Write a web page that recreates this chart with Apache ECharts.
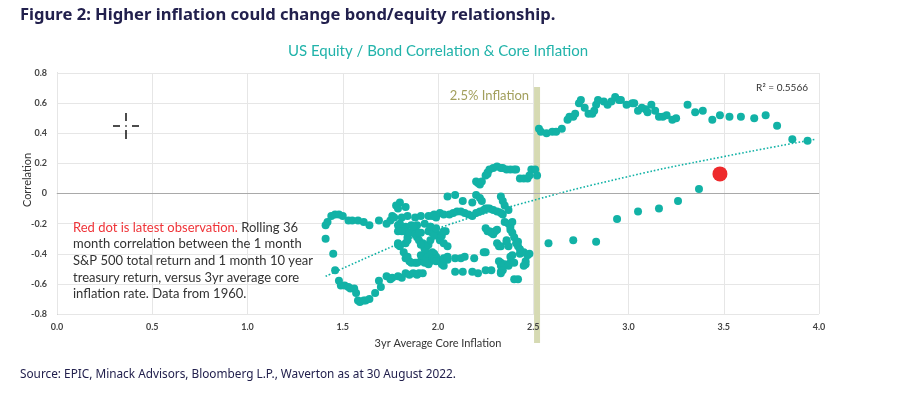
<!DOCTYPE html>
<html>
<head>
<meta charset="utf-8">
<script src="https://cdn.jsdelivr.net/npm/echarts@6/dist/echarts.min.js"></script>
<style>
  html, body { margin: 0; padding: 0; background: #fff; }
  #chart { width: 899px; height: 399px; }
</style>
</head>
<body>
<div id="chart"></div>
<script>
// 3yr avg core inflation vs rolling 36m equity/bond correlation
const leftArm = [
  [1.41,-0.21],[1.42,-0.19],[1.44,-0.15],[1.46,-0.14],[1.48,-0.14],[1.50,-0.15],[1.53,-0.18],[1.55,-0.18],
  [1.58,-0.18],[1.61,-0.19],[1.64,-0.21],[1.69,-0.18],[1.73,-0.20],[1.75,-0.18],[1.76,-0.15],
  [1.41,-0.30],[1.45,-0.40],[1.46,-0.51]
];
const lowerArm = [
  [1.48,-0.58],[1.49,-0.61],[1.51,-0.61],[1.53,-0.62],[1.54,-0.63],[1.56,-0.63],[1.57,-0.66],[1.58,-0.71],
  [1.59,-0.72],[1.61,-0.71],[1.62,-0.71],[1.64,-0.70],[1.67,-0.66],[1.69,-0.58],[1.70,-0.62],[1.73,-0.55],
  [1.75,-0.57],[1.76,-0.56],[1.79,-0.55],[1.81,-0.56],[1.83,-0.53],[1.85,-0.54],[1.87,-0.53],[1.89,-0.54],
  [1.90,-0.53],[1.92,-0.53]
];
const middleCluster = [
  [1.78,-0.08],[1.80,-0.06],[1.83,-0.09],[1.79,-0.10],
  [1.77,-0.16],[1.81,-0.16],[1.84,-0.15],[1.88,-0.16],[1.91,-0.15],[1.95,-0.15],
  [1.79,-0.21],[1.83,-0.22],[1.86,-0.21],[1.88,-0.23],[1.89,-0.21],[1.93,-0.20],[1.96,-0.22],
  [1.83,-0.25],[1.87,-0.26],[1.91,-0.26],[1.95,-0.25],[1.80,-0.20],[1.82,-0.24],[1.84,-0.29],[1.85,-0.26],
  [1.87,-0.22],[1.89,-0.29],[1.90,-0.31],[1.92,-0.33],[1.94,-0.35],
  [1.98,-0.24],[1.99,-0.26],[2.01,-0.31],[2.03,-0.33],[2.05,-0.35],
  [1.79,-0.33],[1.80,-0.35],[1.82,-0.39],[1.84,-0.42],[1.85,-0.45],[1.88,-0.46],[1.91,-0.45],[1.93,-0.44],
  [1.96,-0.45],[1.98,-0.40],[1.99,-0.42],[2.01,-0.45],[2.03,-0.48],[2.05,-0.44],[1.91,-0.41],[1.94,-0.40],
  [1.93,-0.36],[1.97,-0.39],[1.79,-0.34],[1.83,-0.43],[1.86,-0.46],[1.89,-0.46],[1.93,-0.46],[1.95,-0.47],
  [1.94,-0.43],[1.95,-0.40],[1.93,-0.37],[1.95,-0.34],[1.96,-0.31],[1.91,-0.34],[1.83,-0.33],[1.84,-0.31],
  [1.88,-0.27],[1.90,-0.26],[1.81,-0.25],[1.79,-0.25]
];
const rightCluster = [
  [1.97,-0.43],[1.98,-0.44],[1.99,-0.45],[2.02,-0.47],[2.03,-0.43],[2.05,-0.42],[2.09,-0.43],[2.12,-0.43],
  [2.14,-0.42],[2.19,-0.43],[2.25,-0.39],
  [2.09,-0.52],[2.13,-0.52],[2.18,-0.52],[2.21,-0.53],[2.25,-0.51],[2.28,-0.51],[2.33,-0.52],[2.33,-0.53],
  [2.33,-0.48],[2.32,-0.45],[2.33,-0.46],[2.35,-0.47],[2.37,-0.48],[2.38,-0.46],[2.38,-0.42],[2.39,-0.41],
  [2.43,-0.40],[2.45,-0.39],[2.47,-0.41],[2.48,-0.40],[2.46,-0.45],[2.46,-0.47],[2.45,-0.48],[2.40,-0.57],
  [2.42,-0.57],
  [1.97,-0.26],[1.98,-0.28],[2.02,-0.28],[2.27,-0.25],[2.29,-0.27],[2.31,-0.33],[2.32,-0.35],[2.36,-0.32],
  [2.37,-0.35],[2.39,-0.26],[2.40,-0.29],[2.42,-0.32],[2.42,-0.35],[2.43,-0.37],[2.04,-0.25],
  [2.25,-0.23],[2.26,-0.25],[2.28,-0.26],[2.30,-0.25],[2.31,-0.24],[2.33,-0.35],[2.38,-0.24],[2.41,-0.33],
  [2.36,-0.31],[2.40,-0.46],[2.34,-0.51],[2.24,-0.39]
];
const upperBand = [
  [1.97,-0.15],[1.98,-0.14],[1.99,-0.16],[2.01,-0.13],[2.03,-0.14],[2.06,-0.14],[2.08,-0.13],[2.10,-0.12],
  [2.12,-0.12],[2.14,-0.13],[2.16,-0.14],[2.18,-0.15],[2.20,-0.13],[2.22,-0.12],[2.24,-0.11],[2.26,-0.10],
  [2.27,-0.10],[2.29,-0.11],[2.31,-0.12],[2.33,-0.13],[2.34,-0.14],[2.35,-0.19],[2.37,-0.20],[2.38,-0.22],
  [1.96,-0.22],[1.99,-0.23],[2.03,-0.25],
  [2.05,-0.02],[2.09,-0.01],[2.13,-0.05],[2.18,-0.06],[2.20,-0.01],[2.22,-0.03],[2.23,-0.05],[2.25,-0.10],
  [2.33,-0.02],[2.34,-0.05],[2.35,-0.08],[2.37,-0.11],[2.39,-0.19]
];
const arc = [
  [2.20,0.08],[2.21,0.07],[2.22,0.06],[2.23,0.08],[2.25,0.12],[2.26,0.13],[2.26,0.14],[2.27,0.16],
  [2.29,0.17],[2.31,0.18],[2.33,0.17],[2.34,0.17],[2.36,0.16],[2.38,0.16],[2.40,0.16],[2.41,0.16],
  [2.43,0.10],[2.45,0.10],[2.47,0.10],[2.48,0.12],[2.49,0.16],[2.51,0.16],[2.52,0.12]
];
const highInflation = [
  [2.53,0.43],[2.54,0.41],[2.57,0.40],[2.60,0.41],[2.62,0.41],[2.65,0.43],[2.68,0.49],[2.69,0.51],
  [2.71,0.51],[2.72,0.53],[2.74,0.60],[2.75,0.62],[2.77,0.57],[2.79,0.53],[2.81,0.53],[2.82,0.55],
  [2.83,0.59],[2.84,0.62],[2.87,0.61],[2.89,0.59],[2.91,0.61],[2.93,0.64],[2.95,0.62],[2.96,0.62],
  [2.99,0.59],[3.02,0.60],[3.03,0.60],[3.05,0.55],[3.07,0.57],[3.09,0.56],[3.10,0.54],[3.12,0.59],
  [3.14,0.55],[3.16,0.51],[3.18,0.51],[3.20,0.52],[3.23,0.49],[3.25,0.50],[3.31,0.59],[3.35,0.54],
  [3.39,0.55],[3.44,0.49],[3.48,0.52],[3.53,0.51],[3.59,0.51],[3.66,0.50],[3.72,0.52],[3.78,0.45],
  [3.86,0.36],[3.94,0.35],
  [2.58,-0.33],[2.71,-0.31],[2.83,-0.32],[2.94,-0.17],[3.05,-0.12],[3.16,-0.10],[3.26,-0.05],[3.37,0.03]
];
const latest = [[3.48,0.13]];
// dotted log trend
const trend = [[1.41,-0.55],[1.70,-0.385],[1.98,-0.24],[2.43,-0.07],[2.99,0.11],[3.48,0.24],[3.98,0.36]];
const inflationMarker = 2.52;

const teal = '#12b2a6';
const font = 'Lato, "Noto Sans", sans-serif';

const chart = echarts.init(document.getElementById('chart'));
chart.setOption({
  animation: false,
  grid: { left: 57, right: 80, top: 73, bottom: 85 },
  xAxis: {
    type: 'value', min: 0, max: 4, interval: 0.5, z: 3,
    axisLine: { show: true, lineStyle: { color: '#cfcfcf' } },
    axisTick: { show: false },
    splitLine: { lineStyle: { color: '#e6e6e6' } },
    axisLabel: { color: '#444', fontSize: 9, fontWeight: 'bold', fontFamily: font, margin: 9,
      formatter: v => v.toFixed(1) }
  },
  yAxis: {
    type: 'value', min: -0.8, max: 0.8, interval: 0.2,
    axisLine: { show: true, onZero: false, lineStyle: { color: '#bdbdbd' } },
    axisTick: { show: false },
    splitLine: { lineStyle: { color: '#e6e6e6' } },
    axisLabel: { color: '#444', fontSize: 9, fontWeight: 'bold', fontFamily: font, margin: 10,
      formatter: v => Math.abs(v) < 1e-9 ? '0' : v.toFixed(1) }
  },
  series: [
    {
      type: 'line', data: trend, smooth: true, symbol: 'none', z: 4,
      lineStyle: { color: teal, width: 1.6, type: [1.6, 2] },
      markLine: {
        silent: true, symbol: 'none', label: { show: false },
        lineStyle: { color: '#a9a9a9', width: 1, type: 'solid' },
        data: [{ yAxis: 0 }]
      }
    },
    {
      type: 'scatter', symbolSize: 8, z: 5,
      itemStyle: { color: teal, opacity: 1 },
      data: [].concat(leftArm, lowerArm, middleCluster, rightCluster, upperBand, arc, highInflation)
    },
    {
      type: 'scatter', symbolSize: 15, z: 6,
      itemStyle: { color: '#ee2a2c', opacity: 1 },
      data: latest
    }
  ]
});

const bx = chart.convertToPixel({ xAxisIndex: 0 }, inflationMarker);
chart.setOption({
  graphic: [
    { type: 'rect', z: 1, zlevel: 0, shape: { x: bx - 3, y: 87, width: 6, height: 256 },
      style: { fill: '#d6dab3' } },
    { type: 'text', left: 20, top: 7, style: {
      text: 'Figure 2: Higher inflation could change bond/equity relationship.',
      fill: '#22204d', font: 'bold 16.6px "Noto Sans", sans-serif' } },
    { type: 'text', x: 438, y: 51, style: {
      text: 'US Equity / Bond Correlation & Core Inflation', fill: '#21b3aa',
      font: '15px ' + font, textAlign: 'center', textVerticalAlign: 'middle' } },
    { type: 'text', x: bx - 8, y: 96, style: {
      text: '2.5% Inflation', fill: '#a29f5c', font: '13px ' + font,
      textAlign: 'right', textVerticalAlign: 'middle' } },
    { type: 'text', x: 808, y: 88, style: {
      text: 'R² = 0.5566', fill: '#333', font: '10px ' + font,
      textAlign: 'right', textVerticalAlign: 'middle' } },
    { type: 'text', x: 27, y: 180, rotation: Math.PI / 2, style: {
      text: 'Correlation', fill: '#333', font: '11px ' + font,
      textAlign: 'center', textVerticalAlign: 'middle' } },
    { type: 'text', x: 438, y: 343, style: {
      text: '3yr Average Core Inflation', fill: '#333', font: '11px ' + font,
      textAlign: 'center', textVerticalAlign: 'middle' } },
    { type: 'text', x: 73, y: 219, z: 10, style: {
      text: '{r|Red dot is latest observation.} Rolling 36\nmonth correlation between the 1 month\nS&P 500 total return and 1 month 10 year\ntreasury return, versus 3yr average core\ninflation rate. Data from 1960.',
      fill: '#333', fontSize: 13, fontFamily: font, lineHeight: 16.7,
      rich: { r: { fill: '#ef3338', fontSize: 13, fontFamily: font, lineHeight: 16.7 } } } },
    { type: 'text', left: 20, top: 369, style: {
      text: 'Source: EPIC, Minack Advisors, Bloomberg L.P., Waverton as at 30 August 2022.',
      fill: '#22204d', font: '11.8px "Noto Sans", sans-serif' } },
    // small crosshair cursor mark in the empty upper-left area
    { type: 'group', children: [
      { type: 'line', shape: { x1: 113, y1: 126, x2: 120, y2: 126 }, style: { stroke: '#111', lineWidth: 1.5 } },
      { type: 'line', shape: { x1: 132, y1: 126, x2: 139, y2: 126 }, style: { stroke: '#111', lineWidth: 1.5 } },
      { type: 'line', shape: { x1: 126, y1: 113, x2: 126, y2: 121 }, style: { stroke: '#111', lineWidth: 1.5 } },
      { type: 'line', shape: { x1: 126, y1: 130, x2: 126, y2: 139 }, style: { stroke: '#111', lineWidth: 1.5 } },
      { type: 'rect', shape: { x: 125.3, y: 125.3, width: 1.4, height: 1.4 }, style: { fill: '#111' } }
    ] }
  ]
});

window.addEventListener('resize', () => chart.resize());
</script>
</body>
</html>
